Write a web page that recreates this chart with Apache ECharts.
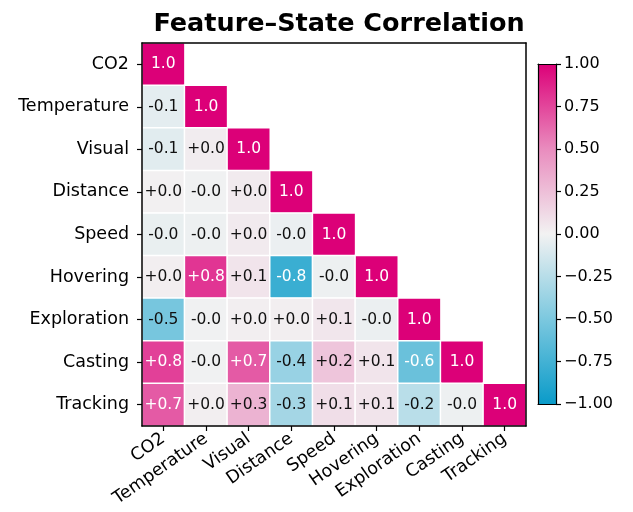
<!DOCTYPE html>
<html>
<head>
<meta charset="utf-8">
<script src="https://cdn.jsdelivr.net/npm/echarts@6/dist/echarts.min.js"></script>
<style>html,body{margin:0;padding:0;background:#fff}#c{width:633px;height:512px}</style>
</head>
<body>
<div id="c"></div>
<script>
const features = ['CO2','Temperature','Visual','Distance','Speed','Hovering','Exploration','Casting','Tracking'];
// lower-triangle correlation rows (row i has i+1 values)
const rowCO2 = [1.0];
const rowTemperature = [-0.06, 1.0];
const rowVisual = [-0.07, 0.03, 1.0];
const rowDistance = [0.01, -0.01, 0.04, 1.0];
const rowSpeed = [-0.04, -0.02, 0.04, -0.03, 1.0];
const rowHovering = [0.02, 0.81, 0.07, -0.79, -0.02, 1.0];
const rowExploration = [-0.52, -0.01, 0.02, 0.02, 0.06, -0.03, 1.0];
const rowCasting = [0.77, -0.01, 0.68, -0.38, 0.22, 0.07, -0.58, 1.0];
const rowTracking = [0.68, 0.02, 0.31, -0.33, 0.1, 0.07, -0.24, -0.02, 1.0];
const rows = [rowCO2,rowTemperature,rowVisual,rowDistance,rowSpeed,rowHovering,rowExploration,rowCasting,rowTracking];
const cbTicks = [-1,-0.75,-0.5,-0.25,0,0.25,0.5,0.75,1];
const cmap = ['#0a9bc9','#7cc8df','#f2f2f2','#e98cbe','#dc0078'];

const data = [];
rows.forEach((r, i) => r.forEach((v, j) => {
  const txt = i === j ? v.toFixed(1) : (v >= 0 ? '+' : '') + v.toFixed(1);
  data.push({value: [j, i, v], label: {formatter: txt, color: Math.abs(v) >= 0.55 ? '#fff' : '#111'}});
}));

const chart = echarts.init(document.getElementById('c'));
const F = 'DejaVu Sans';
const axisCommon = {
  type: 'category', data: features, z: 10,
  axisLine: {show: true, onZero: false, lineStyle: {color: '#000', width: 1.5}},
  axisTick: {show: true, alignWithLabel: true, length: 5, lineStyle: {color: '#000', width: 1.2}},
  splitLine: {show: false},
  axisLabel: {color: '#000', fontFamily: F, fontSize: 17.5}
};
chart.setOption({
  animation: false,
  title: {text: 'Feature\u2013State Correlation', left: 334, textAlign: 'center', top: 6,
    textStyle: {fontFamily: F, fontWeight: 'bold', fontSize: 25.5, color: '#000'}},
  grid: [
    {left: 142, top: 43, width: 384, height: 383},
    {left: 538, top: 64, width: 18, height: 340}
  ],
  xAxis: [
    Object.assign({}, axisCommon, {gridIndex: 0, position: 'bottom',
      axisLabel: Object.assign({}, axisCommon.axisLabel, {rotate: 35, margin: 11})}),
    {gridIndex: 0, type: 'category', data: features, position: 'top', z: 10,
      axisLine: {show: true, lineStyle: {color: '#000', width: 1.5}}, axisTick: {show: false}, axisLabel: {show: false}},
    {gridIndex: 1, type: 'category', data: ['cb'], position: 'bottom', z: 10,
      axisLine: {show: true, onZero: false, lineStyle: {color: '#000', width: 1.2}}, axisTick: {show: false}, axisLabel: {show: false}},
    {gridIndex: 1, type: 'category', data: ['cb'], position: 'top', z: 10,
      axisLine: {show: true, onZero: false, lineStyle: {color: '#000', width: 1.2}}, axisTick: {show: false}, axisLabel: {show: false}}
  ],
  yAxis: [
    Object.assign({}, axisCommon, {gridIndex: 0, inverse: true, position: 'left',
      axisLabel: Object.assign({}, axisCommon.axisLabel, {margin: 13})}),
    {gridIndex: 0, type: 'category', data: features, inverse: true, position: 'right', z: 10,
      axisLine: {show: true, lineStyle: {color: '#000', width: 1.5}}, axisTick: {show: false}, axisLabel: {show: false}},
    {gridIndex: 1, type: 'value', min: -1, max: 1, interval: 0.25, position: 'right', z: 10,
      axisLine: {show: true, onZero: false, lineStyle: {color: '#000', width: 1.2}},
      axisTick: {show: true, length: 5, lineStyle: {color: '#000', width: 1.2}},
      splitLine: {show: false},
      axisLabel: {margin: 8, color: '#000', fontFamily: F, fontSize: 16,
        formatter: v => v.toFixed(2).replace('-', '\u2212')}},
    {gridIndex: 1, type: 'value', min: -1, max: 1, position: 'left', z: 10,
      axisLine: {show: true, onZero: false, lineStyle: {color: '#000', width: 1.2}},
      axisTick: {show: false}, axisLabel: {show: false}, splitLine: {show: false}}
  ],
  visualMap: {show: false, type: 'continuous', min: -1, max: 1, dimension: 2, seriesIndex: 0,
    inRange: {color: cmap}},
  series: [
    {type: 'heatmap', xAxisIndex: 0, yAxisIndex: 0, data: data,
      itemStyle: {borderColor: '#fff', borderWidth: 1.5},
      label: {show: true, fontFamily: F, fontSize: 15.5}},
    {type: 'bar', xAxisIndex: 2, yAxisIndex: 2, stack: 'cb', barWidth: '100%', data: [cbTicks[cbTicks.length-1]],
      itemStyle: {color: new echarts.graphic.LinearGradient(0, 1, 0, 0, [
        {offset: 0, color: cmap[2]}, {offset: 0.5, color: cmap[3]}, {offset: 1, color: cmap[4]}])}},
    {type: 'bar', xAxisIndex: 2, yAxisIndex: 2, stack: 'cb', barWidth: '100%', data: [cbTicks[0]],
      itemStyle: {color: new echarts.graphic.LinearGradient(0, 0, 0, 1, [
        {offset: 0, color: cmap[2]}, {offset: 0.5, color: cmap[1]}, {offset: 1, color: cmap[0]}])}}
  ]
});
</script>
</body>
</html>
